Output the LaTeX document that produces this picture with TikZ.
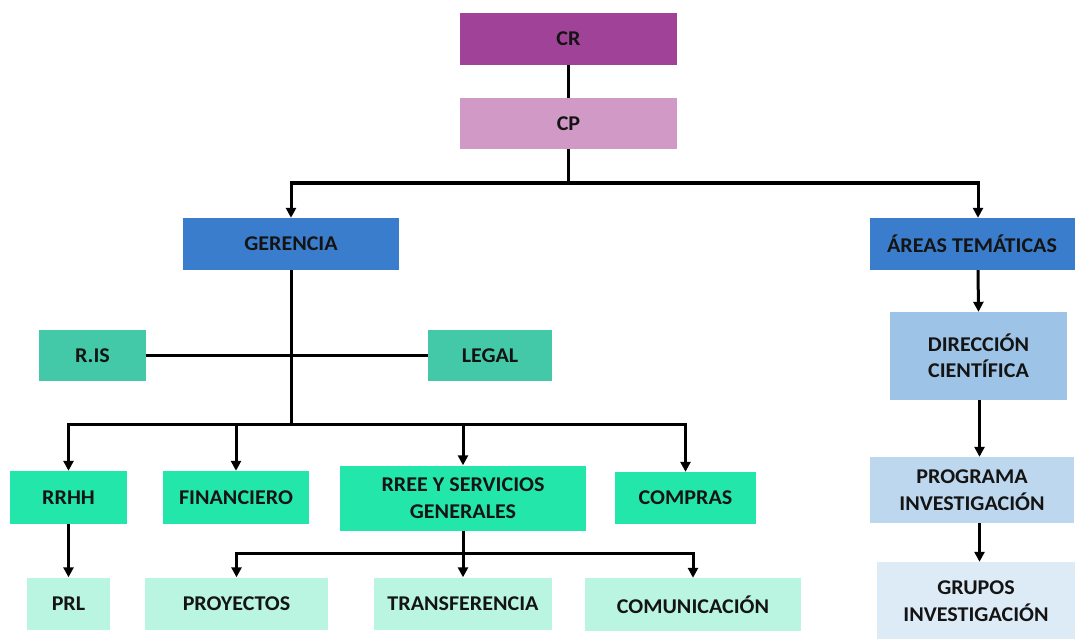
\documentclass[tikz,border=0pt]{standalone}
\usepackage{fontspec}
\setmainfont{Carlito}[FakeStretch=1.05]
\usetikzlibrary{arrows.meta}
\definecolor{crcol}{RGB}{160,66,152}
\definecolor{cpcol}{RGB}{209,153,197}
\definecolor{bluecol}{RGB}{59,125,205}
\definecolor{tealcol}{RGB}{67,200,168}
\definecolor{greencol}{RGB}{35,230,170}
\definecolor{mintcol}{RGB}{186,245,226}
\definecolor{dircol}{RGB}{157,195,230}
\definecolor{progcol}{RGB}{189,215,238}
\definecolor{grupcol}{RGB}{221,235,247}
\definecolor{txtcol}{RGB}{20,20,20}
\begin{document}
\begin{tikzpicture}[x=1pt,y=-1pt,
  box/.style={draw=none, inner sep=0pt, align=center, text=txtcol,
    font=\bfseries\fontsize{21}{26.5}\selectfont},
  conn/.style={line width=3pt, draw=black},
  arr/.style={conn, -{Triangle[length=10pt,width=10pt]}}]
\useasboundingbox (0,0) rectangle (1075,639);

\node[box, fill=crcol, minimum width=217pt, minimum height=52pt] (cr) at (568.5,39) {CR};
\node[box, fill=cpcol, minimum width=217pt, minimum height=51pt] (cp) at (568.5,123.5) {CP};
\node[box, fill=bluecol, minimum width=216pt, minimum height=52pt] (ger) at (291,244) {GERENCIA};
\node[box, fill=bluecol, minimum width=205pt, minimum height=52pt] (areas) at (972,244) {ÁREAS TEMÁTICAS};
\node[box, fill=tealcol, minimum width=107pt, minimum height=51pt] (ris) at (92.5,355.5) {R.IS};
\node[box, fill=tealcol, minimum width=124pt, minimum height=51pt] (legal) at (490,355.5) {LEGAL};
\node[box, fill=greencol, minimum width=117pt, minimum height=53pt] (rrhh) at (68.5,497.5) {RRHH};
\node[box, fill=greencol, minimum width=146pt, minimum height=53pt] (fin) at (236,497.5) {FINANCIERO};
\node[box, fill=greencol, minimum width=246pt, minimum height=65pt] (rree) at (463,498) {RREE Y SERVICIOS\\GENERALES};
\node[box, fill=greencol, minimum width=141pt, minimum height=52pt] (compras) at (685.5,498) {COMPRAS};
\node[box, fill=mintcol, minimum width=83pt, minimum height=52pt] (prl) at (68.5,603.5) {PRL};
\node[box, fill=mintcol, minimum width=183pt, minimum height=52pt] (proy) at (236.5,603.5) {PROYECTOS};
\node[box, fill=mintcol, minimum width=178pt, minimum height=52pt] (trans) at (463,603.5) {TRANSFERENCIA};
\node[box, fill=mintcol, minimum width=216pt, minimum height=53pt] (comun) at (693,604.5) {COMUNICACIÓN};
\node[box, fill=dircol, minimum width=177pt, minimum height=88pt] (dir) at (978.5,356) {DIRECCIÓN\\CIENTÍFICA};
\node[box, fill=progcol, minimum width=204pt, minimum height=66pt] (prog) at (972,490) {PROGRAMA\\INVESTIGACIÓN};
\node[box, fill=grupcol, minimum width=198pt, minimum height=78pt] (grup) at (976,601) {GRUPOS\\INVESTIGACIÓN};

\coordinate (j1) at (568.5,183);
\coordinate (j2) at (291,424);
\coordinate (j3) at (463,553);

\draw[conn] (cr.south) -- (cp.north);
\draw[conn] (cp.south) -- (j1);
\draw[arr] (j1) -| (ger.north);
\draw[arr] (j1) -| ([xshift=6pt]areas.north);

\draw[conn] (ger.south) -- (j2);
\draw[conn] (ris.east) -- (legal.west);
\draw[arr] (j2) -| (rrhh.north);
\draw[arr] (j2) -| (fin.north);
\draw[arr] (j2) -| (rree.north);
\draw[arr] (j2) -| (compras.north);

\draw[arr] (rrhh.south) -- (prl.north);
\draw[conn] (rree.south) -- (j3);
\draw[arr] (j3) -| (proy.north);
\draw[arr] (j3) -- (trans.north);
\draw[arr] (j3) -| (comun.north);

\draw[arr] ([xshift=6pt]areas.south) -- (dir.north);
\draw[arr] ([xshift=1pt]dir.south) -- ([xshift=1pt]dir.south |- prog.north);
\draw[arr] ([xshift=1pt]dir.south |- prog.south) -- ([xshift=1pt]dir.south |- grup.north);
\end{tikzpicture}
\end{document}
